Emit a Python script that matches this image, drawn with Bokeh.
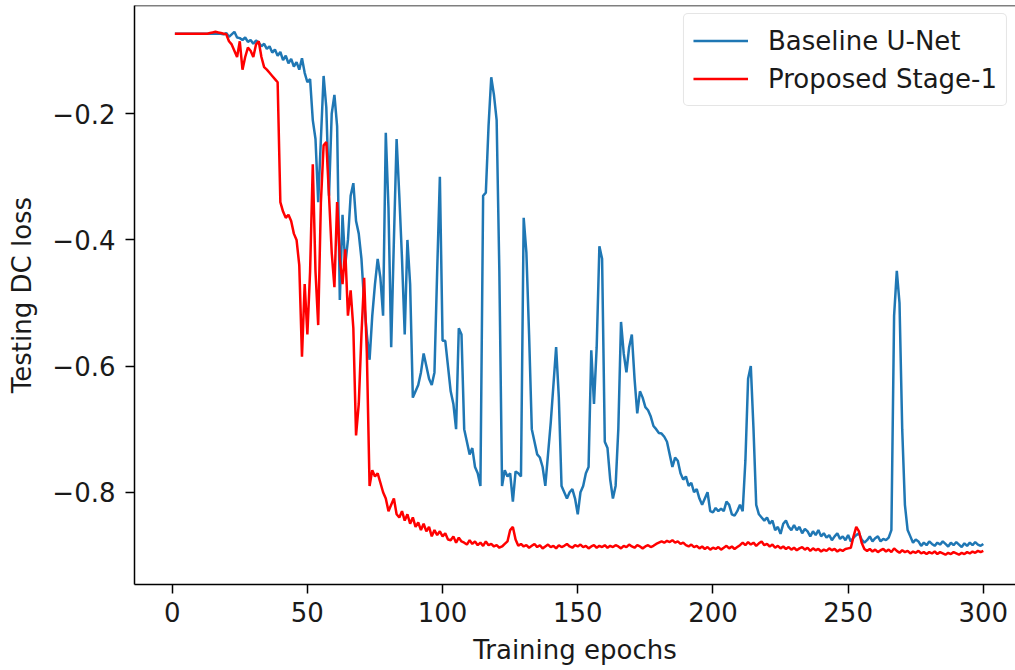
from bokeh.plotting import figure
from bokeh.models import Range1d, FixedTicker, CustomJSTickFormatter, Legend, LegendItem, Span
from bokeh.embed import file_html
from bokeh.resources import INLINE

# ---------------- data ----------------
epochs = list(range(1, 301))

baseline_unet = [
    -0.073, -0.073, -0.073, -0.073, -0.073, -0.073, -0.073, -0.073, -0.073, -0.073,
    -0.073, -0.073, -0.073, -0.073, -0.073, -0.073, -0.073, -0.073, -0.074, -0.072,
    -0.078, -0.074, -0.070, -0.079, -0.080, -0.083, -0.079, -0.086, -0.083, -0.089,
    -0.084, -0.087, -0.093, -0.089, -0.097, -0.093, -0.103, -0.098, -0.108, -0.102,
    -0.115, -0.108, -0.120, -0.113, -0.125, -0.118, -0.130, -0.112, -0.135, -0.150,
    -0.145, -0.210, -0.240, -0.340, -0.240, -0.140, -0.190, -0.330, -0.200, -0.170,
    -0.220, -0.495, -0.360, -0.440, -0.400, -0.330, -0.310, -0.370, -0.390, -0.430,
    -0.500, -0.550, -0.590, -0.520, -0.470, -0.430, -0.460, -0.520, -0.230, -0.350,
    -0.570, -0.400, -0.240, -0.330, -0.430, -0.550, -0.400, -0.470, -0.650, -0.640,
    -0.630, -0.610, -0.580, -0.600, -0.620, -0.630, -0.610, -0.450, -0.300, -0.560,
    -0.560, -0.600, -0.640, -0.660, -0.700, -0.540, -0.550, -0.700, -0.720, -0.740,
    -0.730, -0.760, -0.770, -0.790, -0.330, -0.325, -0.220, -0.142, -0.170, -0.210,
    -0.450, -0.790, -0.765, -0.775, -0.770, -0.815, -0.767, -0.770, -0.775, -0.365,
    -0.420, -0.550, -0.700, -0.720, -0.740, -0.745, -0.760, -0.790, -0.740, -0.690,
    -0.630, -0.570, -0.650, -0.790, -0.800, -0.810, -0.800, -0.795, -0.810, -0.835,
    -0.800, -0.790, -0.770, -0.760, -0.575, -0.660, -0.570, -0.410, -0.430, -0.720,
    -0.730, -0.780, -0.810, -0.790, -0.700, -0.530, -0.580, -0.610, -0.570, -0.550,
    -0.620, -0.675, -0.640, -0.650, -0.665, -0.670, -0.680, -0.695, -0.700, -0.706,
    -0.707, -0.712, -0.720, -0.740, -0.760, -0.745, -0.750, -0.770, -0.780, -0.775,
    -0.790, -0.785, -0.800, -0.795, -0.810, -0.820, -0.810, -0.800, -0.830, -0.832,
    -0.825, -0.830, -0.826, -0.830, -0.815, -0.820, -0.835, -0.837, -0.830, -0.820,
    -0.830, -0.750, -0.620, -0.600, -0.700, -0.820, -0.835, -0.840, -0.845, -0.840,
    -0.850, -0.845, -0.860, -0.855, -0.866, -0.850, -0.845, -0.855, -0.860, -0.852,
    -0.860, -0.855, -0.865, -0.858, -0.862, -0.870, -0.862, -0.868, -0.860, -0.870,
    -0.865, -0.872, -0.868, -0.876, -0.870, -0.865, -0.874, -0.870, -0.876, -0.868,
    -0.878, -0.872, -0.868, -0.865, -0.875, -0.880, -0.876, -0.870, -0.878, -0.873,
    -0.870, -0.878, -0.874, -0.876, -0.872, -0.860, -0.520, -0.449, -0.500, -0.700,
    -0.820, -0.860, -0.870, -0.880, -0.875, -0.878, -0.885, -0.880, -0.884, -0.878,
    -0.882, -0.885, -0.880, -0.883, -0.878, -0.882, -0.886, -0.880, -0.884, -0.879,
    -0.883, -0.887, -0.881, -0.885, -0.880, -0.884, -0.879, -0.883, -0.885, -0.882,
]

proposed_stage1 = [
    -0.073, -0.073, -0.073, -0.073, -0.073, -0.073, -0.073, -0.073, -0.073, -0.073,
    -0.073, -0.073, -0.073, -0.072, -0.071, -0.070, -0.071, -0.072, -0.073, -0.074,
    -0.085, -0.090, -0.100, -0.110, -0.085, -0.130, -0.110, -0.095, -0.100, -0.110,
    -0.090, -0.085, -0.110, -0.126, -0.130, -0.135, -0.140, -0.145, -0.150, -0.340,
    -0.355, -0.365, -0.360, -0.370, -0.390, -0.400, -0.440, -0.585, -0.470, -0.550,
    -0.450, -0.280, -0.450, -0.535, -0.340, -0.250, -0.245, -0.330, -0.420, -0.475,
    -0.340, -0.430, -0.470, -0.415, -0.520, -0.480, -0.540, -0.710, -0.660, -0.550,
    -0.460, -0.580, -0.790, -0.765, -0.775, -0.770, -0.785, -0.800, -0.810, -0.830,
    -0.820, -0.810, -0.835, -0.840, -0.830, -0.845, -0.835, -0.850, -0.840, -0.855,
    -0.848, -0.860, -0.850, -0.862, -0.855, -0.870, -0.860, -0.868, -0.862, -0.870,
    -0.865, -0.875, -0.876, -0.870, -0.880, -0.872, -0.878, -0.880, -0.883, -0.876,
    -0.882, -0.878, -0.884, -0.880, -0.885, -0.878, -0.884, -0.882, -0.886, -0.884,
    -0.888, -0.886, -0.882, -0.878, -0.860, -0.855, -0.875, -0.885, -0.882, -0.886,
    -0.884, -0.888, -0.885, -0.882, -0.887, -0.884, -0.889, -0.886, -0.883, -0.887,
    -0.885, -0.889, -0.884, -0.887, -0.885, -0.882, -0.886, -0.888, -0.884, -0.886,
    -0.883, -0.887, -0.885, -0.889, -0.886, -0.884, -0.888, -0.885, -0.887, -0.884,
    -0.888, -0.885, -0.887, -0.884, -0.886, -0.889, -0.885, -0.887, -0.883, -0.886,
    -0.888, -0.884, -0.886, -0.889, -0.886, -0.884, -0.887, -0.885, -0.882, -0.880,
    -0.878, -0.880, -0.877, -0.879, -0.876, -0.880, -0.878, -0.882, -0.880, -0.884,
    -0.886, -0.883, -0.887, -0.885, -0.889, -0.886, -0.890, -0.887, -0.891, -0.888,
    -0.890, -0.887, -0.891, -0.888, -0.885, -0.889, -0.886, -0.890, -0.887, -0.884,
    -0.880, -0.884, -0.879, -0.883, -0.880, -0.885, -0.881, -0.878, -0.884, -0.882,
    -0.886, -0.883, -0.888, -0.885, -0.889, -0.886, -0.890, -0.887, -0.891, -0.888,
    -0.892, -0.889, -0.887, -0.891, -0.888, -0.893, -0.889, -0.892, -0.890, -0.894,
    -0.891, -0.893, -0.889, -0.892, -0.890, -0.894, -0.891, -0.893, -0.890, -0.889,
    -0.888, -0.870, -0.855, -0.862, -0.880, -0.890, -0.893, -0.890, -0.894, -0.891,
    -0.895, -0.892, -0.890, -0.894, -0.891, -0.895, -0.889, -0.893, -0.896, -0.892,
    -0.895, -0.893, -0.897, -0.894, -0.896, -0.893, -0.897, -0.895, -0.898, -0.895,
    -0.897, -0.894, -0.898, -0.895, -0.897, -0.899, -0.896, -0.898, -0.895, -0.897,
    -0.899, -0.896, -0.898, -0.895, -0.897, -0.894, -0.896, -0.893, -0.895, -0.893,
]

x_ticks = [0, 50, 100, 150, 200, 250, 300]
y_ticks = [-0.8, -0.6, -0.4, -0.2]
series_names = ["Baseline U-Net", "Proposed Stage-1"]
x_label = "Training epochs"
y_label = "Testing DC loss"

# ---------------- figure ----------------
FONT = "DejaVu Sans"
TXT = "#1a1a1a"
FS = "26px"
Y_TOP = -0.0283

p = figure(
    width=1015, height=670,
    output_backend="svg", toolbar_location=None,
    x_range=Range1d(-13.94, 311.9), y_range=Range1d(-0.9463, Y_TOP),
    min_border_left=134, min_border_bottom=86, min_border_top=5, min_border_right=0,
)
p.background_fill_color = "white"
p.border_fill_color = "white"
p.outline_line_color = None
p.grid.visible = False

# top frame edge (the right edge lies outside the cropped picture)
p.add_layout(Span(location=Y_TOP, dimension="width", line_color="black", line_width=1.5))

r1 = p.line(epochs, baseline_unet, line_color="#1f77b4", line_width=2.5)
r2 = p.line(epochs, proposed_stage1, line_color="#ff0000", line_width=2.5)

p.xaxis.ticker = FixedTicker(ticks=x_ticks)
p.yaxis.ticker = FixedTicker(ticks=y_ticks)
p.yaxis.formatter = CustomJSTickFormatter(
    code="return (tick < 0 ? '\u2212' : '') + Math.abs(tick).toFixed(1);")

for ax in (p.xaxis[0], p.yaxis[0]):
    ax.axis_line_color = "black"
    ax.axis_line_width = 1.5
    ax.major_tick_line_color = "black"
    ax.major_tick_line_width = 1.5
    ax.major_tick_out = 9
    ax.major_tick_in = 0
    ax.minor_tick_out = 0
    ax.minor_tick_in = 0
    ax.major_label_text_font = FONT
    ax.major_label_text_font_size = FS
    ax.major_label_text_color = TXT
    ax.axis_label_text_font = FONT
    ax.axis_label_text_font_size = FS
    ax.axis_label_text_font_style = "normal"
    ax.axis_label_text_color = TXT

p.xaxis.axis_label = x_label
p.yaxis.axis_label = y_label
p.xaxis.major_label_standoff = 8
p.xaxis.axis_label_standoff = 10
p.yaxis.major_label_standoff = 10
p.yaxis.axis_label_standoff = 12

legend = Legend(
    items=[LegendItem(label=series_names[0], renderers=[r1]),
           LegendItem(label=series_names[1], renderers=[r2])],
    location="top_right",
)
legend.margin = 8
legend.padding = 9
legend.spacing = 3
legend.glyph_width = 55
legend.glyph_height = 35
legend.label_height = 35
legend.label_standoff = 20
legend.label_text_font = FONT
legend.label_text_font_size = FS
legend.label_text_color = TXT
legend.border_line_color = "#cccccc"
legend.border_line_width = 1.5
legend.background_fill_color = "white"
legend.background_fill_alpha = 0.8
if "border_radius" in Legend.properties():
    legend.border_radius = 5
p.add_layout(legend, "center")

open("out.html", "w").write(file_html(p, INLINE))
